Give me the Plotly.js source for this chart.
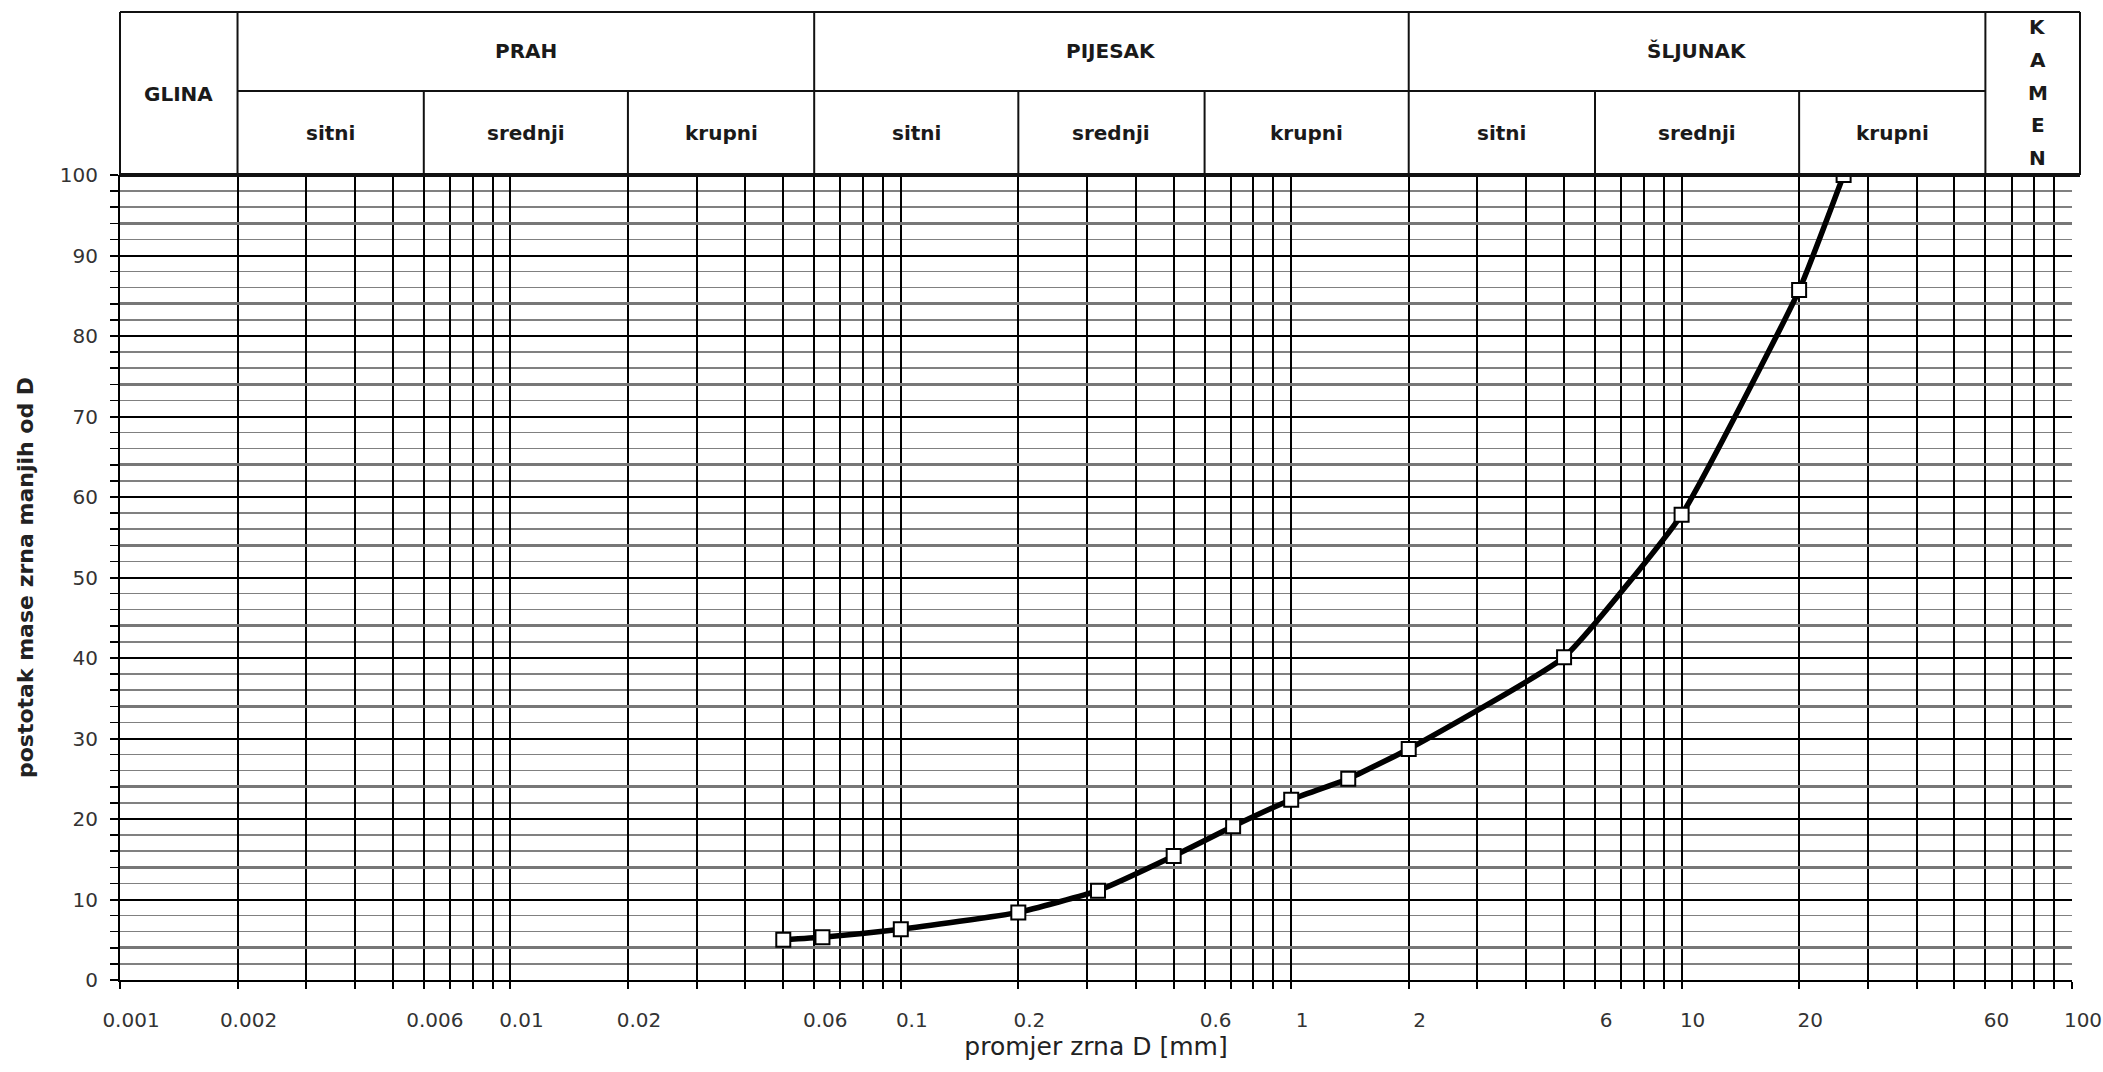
<!DOCTYPE html>
<html>
<head>
<meta charset="utf-8">
<script src="https://cdn.plot.ly/plotly-3.0.1.min.js"></script>
<style>html,body{margin:0;padding:0;background:#fff;}</style>
</head>
<body>
<div id="chart" style="width:2103px;height:1072px;"></div>
<script>
// ---- data ----
const grainSize = [0.05, 0.063, 0.1, 0.2, 0.32, 0.5, 0.71, 1, 1.4, 2, 5, 10, 20, 26];
const passing   = [5.0, 5.3, 6.3, 8.4, 11.1, 15.4, 19.1, 22.4, 25.0, 28.7, 40.1, 57.8, 85.7, 100];

const xLabelValues = [0.001, 0.002, 0.006, 0.01, 0.02, 0.06, 0.1, 0.2, 0.6, 1, 2, 6, 10, 20, 60, 100];
const xLabelTexts  = ['0.001', '0.002', '0.006', '0.01', '0.02', '0.06', '0.1', '0.2', '0.6', '1', '2', '6', '10', '20', '60', '100'];

const mainClasses = ['GLINA', 'PRAH', 'PIJESAK', 'ŠLJUNAK', 'KAMEN'];
const mainBounds  = [0.001, 0.002, 0.06, 2, 60, 100];
const subClasses  = ['sitni', 'srednji', 'krupni'];
const prahBounds    = [0.002, 0.006, 0.02, 0.06];
const pijesakBounds = [0.06, 0.2, 0.6, 2];
const sljunakBounds = [2, 6, 20, 60];

const yTitle = 'postotak mase zrna manjih od D';
const xTitle = 'promjer zrna D [mm]';

// ---- layout geometry ----
const W = 2103, H = 1072;
const M = {l: 120, r: 31, t: 175, b: 92, pad: 0};
const plotW = W - M.l - M.r, plotH = H - M.t - M.b;
const xMinLog = -3, xMaxLog = 2;
const px = v => (Math.log10(v) - xMinLog) / (xMaxLog - xMinLog);  // paper x of a value
const py = pix => 1 + (M.t - pix) / plotH;                          // paper y of a pixel row above plot
const yTop = py(12), yMid = py(91);
const xRight = 1 + 8 / plotW;

// x ticks: every 1..9 per decade
const xTickVals = [], xTickText = [];
for (let e = -3; e <= 1; e++) {
  for (let k = 1; k <= 9; k++) {
    xTickVals.push(Number((k * Math.pow(10, e)).toPrecision(6)));
  }
}
xTickVals.push(100);
xTickVals.forEach(v => {
  const i = xLabelValues.findIndex(l => Math.abs(l - v) / v < 1e-6);
  xTickText.push(i >= 0 ? xLabelTexts[i] : '');
});

const accentY = [];
for (let v = 4; v < 100; v += 10) accentY.push(v);

// ---- shapes (header table) ----
const shapes = [];
const hline = (x0, x1, y, w) => shapes.push({type: 'line', xref: 'paper', yref: 'paper', x0, x1, y0: y, y1: y, line: {color: '#111', width: w || 2}});
const vline = (x, y0, y1) => shapes.push({type: 'line', xref: 'paper', yref: 'paper', x0: x, x1: x, y0, y1, line: {color: '#111', width: 2}});

hline(0, xRight, yTop, 2);
hline(px(mainBounds[1]), px(mainBounds[4]), yMid, 2);
hline(0, xRight, 1, 4);
mainBounds.slice(0, 5).forEach(b => vline(px(b), 1, yTop));
vline(xRight, 1, yTop);
[prahBounds, pijesakBounds, sljunakBounds].forEach(bs => {
  bs.slice(1, 3).forEach(b => vline(px(b), 1, yMid));
});

// ---- annotations (header text) ----
const hdrFont = {family: 'DejaVu Sans', size: 20, color: '#1a1a1a'};
const annotations = [];
const mid = (a, b) => (px(a) + px(b)) / 2;
annotations.push({xref: 'paper', yref: 'paper', x: mid(mainBounds[0], mainBounds[1]), y: (1 + yTop) / 2,
  text: '<b>' + mainClasses[0] + '</b>', showarrow: false, xanchor: 'center', yanchor: 'middle', font: hdrFont});
for (let i = 1; i <= 3; i++) {
  annotations.push({xref: 'paper', yref: 'paper', x: mid(mainBounds[i], mainBounds[i + 1]), y: (yMid + yTop) / 2,
    text: '<b>' + mainClasses[i] + '</b>', showarrow: false, xanchor: 'center', yanchor: 'middle', font: hdrFont});
}
[prahBounds, pijesakBounds, sljunakBounds].forEach(bs => {
  for (let j = 0; j < 3; j++) {
    annotations.push({xref: 'paper', yref: 'paper', x: mid(bs[j], bs[j + 1]), y: (1 + yMid) / 2,
      text: '<b>' + subClasses[j] + '</b>', showarrow: false, xanchor: 'center', yanchor: 'middle', font: hdrFont});
  }
});
// KAMEN stacked vertically
const kamen = mainClasses[4].split('');
const kx = (px(mainBounds[4]) + xRight) / 2 + 5 / plotW;
kamen.forEach((ch, i) => {
  const pix = 27 + i * (158 - 27) / (kamen.length - 1);
  annotations.push({xref: 'paper', yref: 'paper', x: kx, y: py(pix), text: '<b>' + ch + '</b>',
    showarrow: false, xanchor: 'center', yanchor: 'middle', font: hdrFont});
});

// ---- traces ----
const traces = [
  {x: [null], y: [null], xaxis: 'x', yaxis: 'y2', mode: 'markers', hoverinfo: 'skip', showlegend: false},
  {
    x: grainSize, y: passing, type: 'scatter', mode: 'lines+markers',
    line: {color: '#000', width: 5.5, shape: 'spline', smoothing: 0.4},
    marker: {symbol: 'square', size: 14, color: '#fff', line: {color: '#000', width: 2}},
    showlegend: false
  }
];

const layout = {
  width: W, height: H,
  margin: M,
  paper_bgcolor: '#fff', plot_bgcolor: '#fff',
  font: {family: 'DejaVu Sans', color: '#222'},
  showlegend: false,
  xaxis: {
    type: 'log', range: [xMinLog, xMaxLog],
    tickmode: 'array', tickvals: xTickVals, ticktext: xTickText,
    showgrid: true, gridcolor: '#000', gridwidth: 2,
    ticks: 'outside', ticklen: 7, tickwidth: 2, tickcolor: '#000',
    showline: true, linecolor: '#000', linewidth: 2,
    zeroline: false,
    tickfont: {family: 'DejaVu Sans', size: 20, color: '#333'},
    ticklabelshift: 11, ticklabelstandoff: 14, ticklabeloverflow: 'allow',
    title: {text: xTitle, font: {family: 'DejaVu Sans', size: 25, color: '#222'}, standoff: 6}
  },
  yaxis: {
    range: [0, 100], tickmode: 'linear', tick0: 0, dtick: 10,
    showgrid: true, gridcolor: '#000', gridwidth: 2,
    ticks: 'outside', ticklen: 8, tickwidth: 2, tickcolor: '#000',
    showline: true, linecolor: '#000', linewidth: 2,
    zeroline: false,
    minor: {tick0: 0, dtick: 2, ticks: 'outside', ticklen: 8, tickwidth: 1.5, tickcolor: '#000',
            showgrid: true, gridcolor: '#808080', gridwidth: 1.5},
    tickfont: {family: 'DejaVu Sans', size: 20, color: '#333'},
    ticklabelstandoff: 8,
    title: {text: '<b>' + yTitle + '</b>', font: {family: 'DejaVu Sans', size: 22, color: '#222'}, standoff: 20}
  },
  yaxis2: {
    overlaying: 'y', side: 'left', range: [0, 100],
    tickmode: 'array', tickvals: accentY, showticklabels: false, ticks: '',
    showgrid: true, gridcolor: '#777', gridwidth: 3,
    zeroline: false, showline: false
  },
  shapes: shapes,
  annotations: annotations
};

Plotly.newPlot('chart', traces, layout, {displayModeBar: false, staticPlot: true});
</script>
</body>
</html>
